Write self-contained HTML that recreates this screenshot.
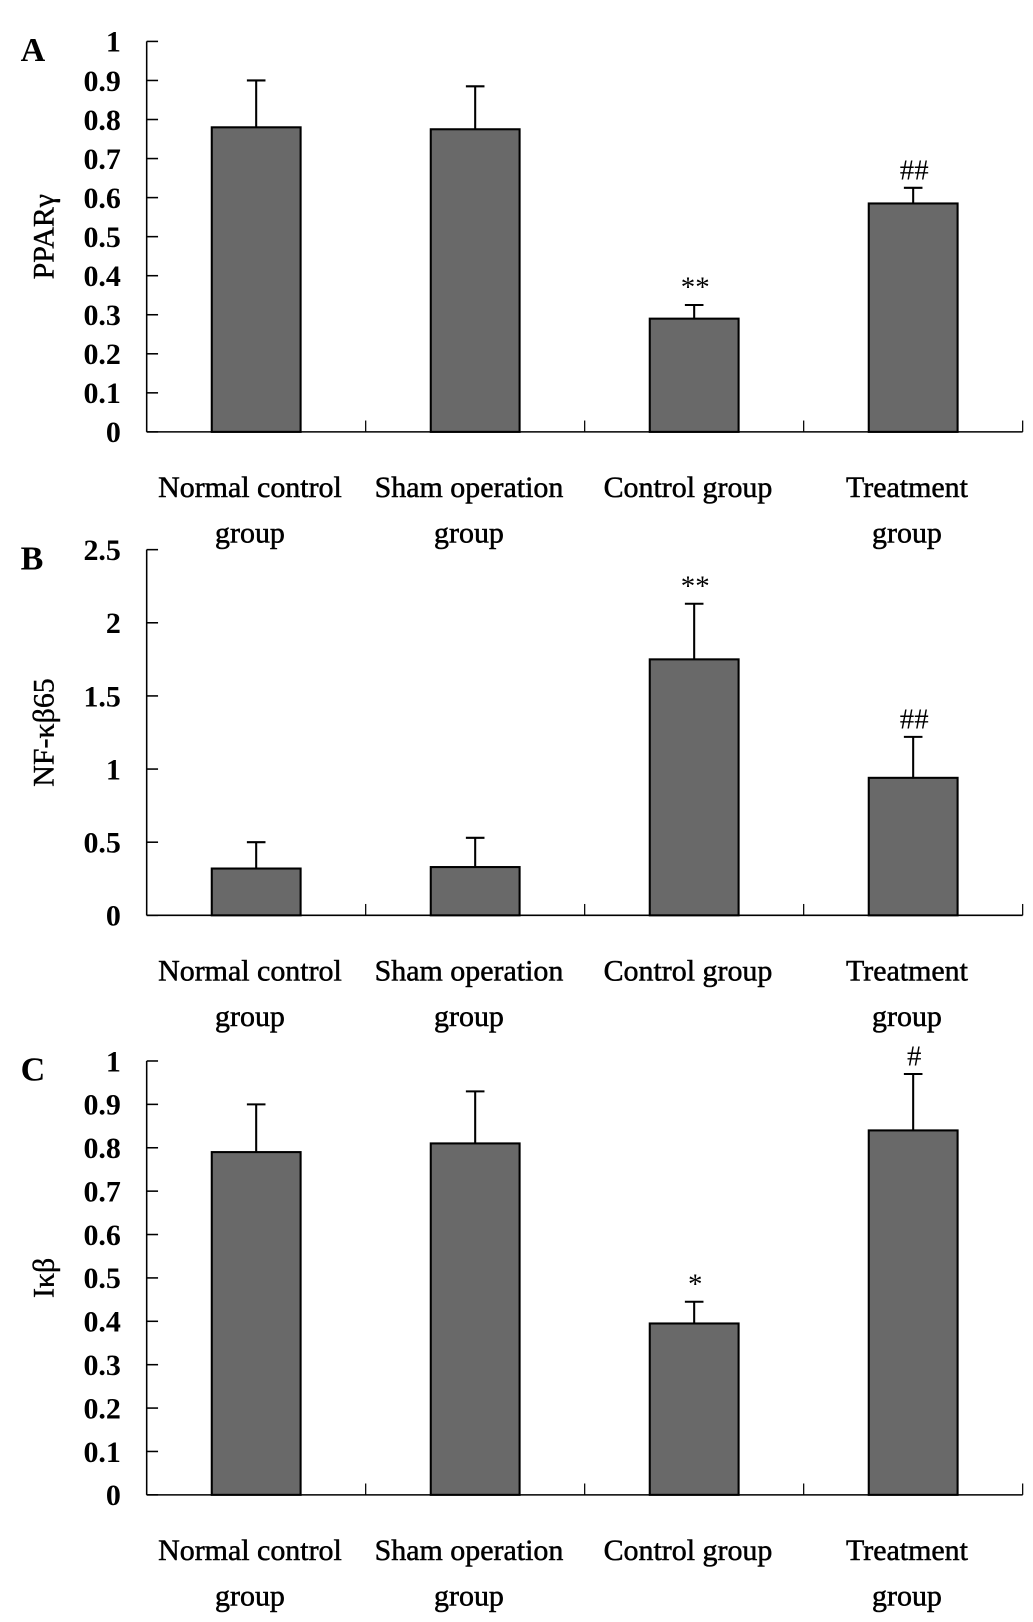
<!DOCTYPE html>
<html><head><meta charset="utf-8"><style>
html,body{margin:0;padding:0;background:#fff}
svg{display:block}
text{font-family:"Liberation Serif",serif;fill:#000}
</style></head><body>
<svg id="chart" width="1033" height="1622" viewBox="0 0 1000 1570" xmlns="http://www.w3.org/2000/svg"></svg>
<script>
const categories = [["Normal control","group"],["Sham operation","group"],["Control group",""],["Treatment","group"]];
const ppargValues = [0.78, 0.775, 0.29, 0.585];
const ppargErrors = [0.12, 0.11, 0.035, 0.04];
const ppargMarks = ["", "", "**", "##"];
const ppargTicks = ["0","0.1","0.2","0.3","0.4","0.5","0.6","0.7","0.8","0.9","1"];
const nfkbValues = [0.32, 0.33, 1.75, 0.94];
const nfkbErrors = [0.18, 0.2, 0.38, 0.28];
const nfkbMarks = ["", "", "**", "##"];
const nfkbTicks = ["0","0.5","1","1.5","2","2.5"];
const ikbValues = [0.79, 0.81, 0.395, 0.84];
const ikbErrors = [0.11, 0.12, 0.05, 0.13];
const ikbMarks = ["", "", "*", "#"];
const ikbTicks = ["0","0.1","0.2","0.3","0.4","0.5","0.6","0.7","0.8","0.9","1"];

const svg = document.getElementById('chart');
const NS = 'http://www.w3.org/2000/svg';
function mk(tag, attrs, parent){const e=document.createElementNS(NS,tag);for(const k in attrs)e.setAttribute(k,attrs[k]);parent.appendChild(e);return e;}

function panel(cfg){
  const g = mk('g',{},svg);
  
  
  const x0=142, x1=990, yTop=cfg.yTop, yBot=cfg.yBot;
  const maxV = parseFloat(cfg.ticks[cfg.ticks.length-1]);
  const y = v => yBot - (v/maxV)*(yBot-yTop);
  const band = (x1-x0)/categories.length;
  const bw = 86;
  const cx = i => x0 + band*(i+0.5);
  const L = mk('text',{x:20,y:yTop+19,'font-size':33,'font-weight':'bold'},g);
  L.textContent = cfg.letter;
  
  
  const yl = mk('text',{x:0,y:0,'font-size':29,'text-anchor':'middle',stroke:'#000','stroke-width':0.4,transform:`translate(52,${(yTop+yBot)/2}) rotate(-90)`},g);
  yl.textContent = cfg.ylabel;
  
  
  const ya = mk('line',{x1:x0,y1:yTop,x2:x0,y2:yBot,stroke:'#000','stroke-width':1.5},g);
  
  
  const xa = mk('line',{x1:x0,y1:yBot,x2:x1,y2:yBot,stroke:'#000','stroke-width':1.5},g);
  
  
  cfg.ticks.forEach(t=>{
    const v=parseFloat(t), yy=y(v);
    mk('line',{x1:x0,y1:yy,x2:x0+11,y2:yy,stroke:'#000','stroke-width':1.5},g);
    const tl = mk('text',{x:117,y:yy+10,'font-size':29,'font-weight':'bold','text-anchor':'end'},g);
    tl.textContent = t;
    
    
  });
  for(let i=1;i<=categories.length;i++){
    const xx = x0+band*i;
    mk('line',{x1:xx,y1:yBot,x2:xx,y2:yBot-11,stroke:'#000','stroke-width':1.2},g);
  }
  categories.forEach((c,i)=>{
    const v=cfg.values[i], e=cfg.errors[i];
    const r = mk('rect',{x:cx(i)-bw/2,y:y(v),width:bw,height:yBot-y(v),fill:'#696969',stroke:'#000','stroke-width':2},g);
    
    
    const eb = mk('path',{d:`M${cx(i)},${y(v)}V${y(v+e)}M${cx(i)-9},${y(v+e)}H${cx(i)+9}`,stroke:'#000','stroke-width':2,fill:'none'},g);
    
    
    if(cfg.marks[i]){
      const m = mk('text',{x:cx(i)+1,y:y(v+e)-8,'font-size':28,'text-anchor':'middle'},g);
      m.textContent = cfg.marks[i];
      
      
    }
    const l1 = mk('text',{x:cx(i)-6,y:yBot+63,'font-size':29,'text-anchor':'middle',stroke:'#000','stroke-width':0.5},g);
    l1.textContent = c[0];
    
    
    if(c[1]){
      const l2 = mk('text',{x:cx(i)-6,y:yBot+107,'font-size':29,'text-anchor':'middle',stroke:'#000','stroke-width':0.5},g);
      l2.textContent = c[1];
      
      
    }
  });
}
panel({letter:'A',ylabel:'PPARγ',yTop:40,yBot:418,values:ppargValues,errors:ppargErrors,marks:ppargMarks,ticks:ppargTicks});
panel({letter:'B',ylabel:'NF-κβ65',yTop:532,yBot:886,values:nfkbValues,errors:nfkbErrors,marks:nfkbMarks,ticks:nfkbTicks});
panel({letter:'C',ylabel:'Iκβ',yTop:1027,yBot:1447,values:ikbValues,errors:ikbErrors,marks:ikbMarks,ticks:ikbTicks});
</script>
</body></html>
